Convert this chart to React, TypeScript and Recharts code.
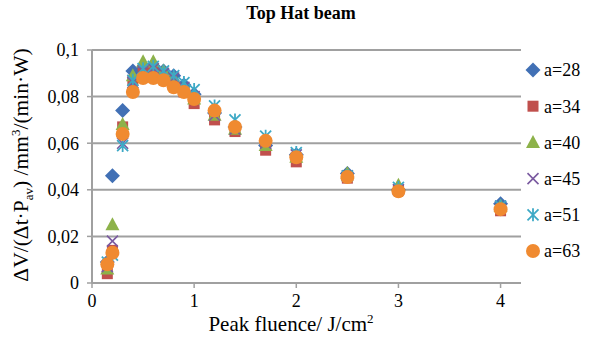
import React from 'react';
import { ScatterChart, Scatter, XAxis, YAxis, CartesianGrid } from 'recharts';

const fluence = [0.15, 0.2, 0.3, 0.4, 0.5, 0.6, 0.7, 0.8, 0.9, 1.0, 1.2, 1.4, 1.7, 2.0, 2.5, 3.0, 4.0];
const a28 = [0.009, 0.046, 0.074, 0.091, 0.092, 0.093, 0.091, 0.089, 0.085, 0.081, 0.073, 0.067, 0.059, 0.055, 0.047, 0.040, 0.034];
const a34 = [0.004, 0.014, 0.067, 0.087, 0.090, 0.091, 0.088, 0.085, 0.082, 0.077, 0.070, 0.065, 0.057, 0.052, 0.045, 0.040, 0.031];
const a40 = [0.006, 0.025, 0.068, 0.089, 0.095, 0.095, 0.091, 0.088, 0.084, 0.079, 0.072, 0.066, 0.059, 0.054, 0.047, 0.042, 0.033];
const a45 = [0.007, 0.018, 0.060, 0.086, 0.091, 0.092, 0.090, 0.088, 0.084, 0.080, 0.072, 0.066, 0.060, 0.055, 0.046, 0.040, 0.033];
const a51 = [0.009, 0.012, 0.059, 0.087, 0.092, 0.093, 0.091, 0.089, 0.086, 0.083, 0.076, 0.070, 0.063, 0.056, 0.046, 0.041, 0.033];
const a63 = [0.008, 0.013, 0.064, 0.082, 0.088, 0.088, 0.087, 0.084, 0.082, 0.079, 0.074, 0.067, 0.061, 0.054, 0.0455, 0.0394, 0.0317];

const seriesNames = ['a=28', 'a=34', 'a=40', 'a=45', 'a=51', 'a=63'];
const seriesValues = [a28, a34, a40, a45, a51, a63];
const seriesColors = ['#4170B5', '#C0504D', '#8DB24A', '#7A5AA0', '#3DA9C6', '#F08A30'];
const seriesShapes = ['diamond', 'square', 'triangle', 'cross', 'star', 'circle'];

const xTicks = [0, 1, 2, 3, 4];
const yTicks = [0, 0.02, 0.04, 0.06, 0.08, 0.1];

const serif = { fontFamily: 'Liberation Serif' };

function Marker({ kind, cx, cy, color }: { kind: string; cx: number; cy: number; color: string }) {
  if (kind === 'diamond') {
    const r = 7.5;
    return <path d={`M${cx},${cy - r}L${cx + r},${cy}L${cx},${cy + r}L${cx - r},${cy}Z`} fill={color} />;
  }
  if (kind === 'square') {
    const s = 5.5;
    return <rect x={cx - s} y={cy - s} width={2 * s} height={2 * s} fill={color} />;
  }
  if (kind === 'triangle') {
    return <path d={`M${cx},${cy - 7.5}L${cx + 7},${cy + 5.5}L${cx - 7},${cy + 5.5}Z`} fill={color} />;
  }
  if (kind === 'cross') {
    const r = 5.5;
    return (
      <path d={`M${cx - r},${cy - r}L${cx + r},${cy + r}M${cx - r},${cy + r}L${cx + r},${cy - r}`} stroke={color} strokeWidth={1.6} fill="none" />
    );
  }
  if (kind === 'star') {
    const r = 5.5;
    return (
      <path
        d={`M${cx - r},${cy - r}L${cx + r},${cy + r}M${cx - r},${cy + r}L${cx + r},${cy - r}M${cx},${cy - r - 1}L${cx},${cy + r + 1}`}
        stroke={color}
        strokeWidth={1.8}
        fill="none"
      />
    );
  }
  return <circle cx={cx} cy={cy} r={7} fill={color} />;
}

const makeShape = (kind: string, color: string) => (props: any) => {
  const { cx, cy } = props;
  if (cx == null || cy == null) return <g />;
  return <Marker kind={kind} cx={cx} cy={cy} color={color} />;
};

const yFmt = (v: number) => (v === 0 ? '0' : String(Number(v.toFixed(2))).replace('.', ','));

const XTick = (props: any) => {
  const { x, y, payload } = props;
  return (
    <text x={x} y={y} dy="0.8em" textAnchor="middle" style={serif} fontSize={18} fill="#000">
      {payload.value}
    </text>
  );
};

const YTick = (props: any) => {
  const { x, y, payload } = props;
  return (
    <text x={x} y={y} dy="0.35em" textAnchor="end" style={serif} fontSize={18} fill="#000">
      {yFmt(payload.value)}
    </text>
  );
};

export default function App() {
  const datasets = seriesValues.map((vals) => vals.map((y, i) => ({ x: fluence[i], y })));
  return (
    <div style={{ position: 'absolute', left: 0, top: 0, width: 590, height: 338, background: '#fff' }}>
      <ScatterChart width={590} height={338} margin={{ top: 50, right: 69, bottom: 0, left: 0 }}>
        <CartesianGrid horizontal vertical={false} stroke="#a0a0a0" strokeWidth={2} />
        <XAxis
          type="number"
          dataKey="x"
          domain={[0, 4.2]}
          ticks={xTicks}
          interval={0}
          height={55}
          tickSize={5}
          tickMargin={5}
          axisLine={{ stroke: '#a0a0a0', strokeWidth: 2 }}
          tickLine={{ stroke: '#a0a0a0', strokeWidth: 1.5 }}
          tick={<XTick />}
        />
        <YAxis
          type="number"
          dataKey="y"
          domain={[0, 0.1]}
          ticks={yTicks}
          interval={0}
          width={92}
          tickSize={5}
          tickMargin={8}
          axisLine={{ stroke: '#a0a0a0', strokeWidth: 2 }}
          tickLine={{ stroke: '#a0a0a0', strokeWidth: 1.5 }}
          tick={<YTick />}
        />
        {datasets.map((d, i) => (
          <Scatter
            key={seriesNames[i]}
            name={seriesNames[i]}
            data={d}
            fill={seriesColors[i]}
            shape={makeShape(seriesShapes[i], seriesColors[i])}
            isAnimationActive={false}
          />
        ))}
      </ScatterChart>
      <svg width={590} height={338} style={{ position: 'absolute', left: 0, top: 0, pointerEvents: 'none' }}>
        <text x={301} y={19} textAnchor="middle" style={serif} fontSize={18} fontWeight="bold" fill="#000">
          Top Hat beam
        </text>
        <text x={291} y={331} textAnchor="middle" style={serif} fontSize={21} fill="#000">
          Peak fluence/ J/cm<tspan dy={-8} fontSize={13}>2</tspan>
        </text>
        <text transform="translate(28,165) rotate(-90)" textAnchor="middle" style={serif} fontSize={21.5} fill="#000">
          ΔV/(Δt·P<tspan dy={5} fontSize={13}>av</tspan>
          <tspan dy={-5}>) /mm</tspan>
          <tspan dy={-8} fontSize={13}>3</tspan>
          <tspan dy={8}>/(min·W)</tspan>
        </text>
        {seriesNames.map((n, i) => (
          <g key={n}>
            <Marker kind={seriesShapes[i]} cx={533} cy={70 + i * 36.2} color={seriesColors[i]} />
            <text x={544} y={70 + i * 36.2} dy="0.35em" style={serif} fontSize={18} fill="#000">
              {n}
            </text>
          </g>
        ))}
      </svg>
    </div>
  );
}
